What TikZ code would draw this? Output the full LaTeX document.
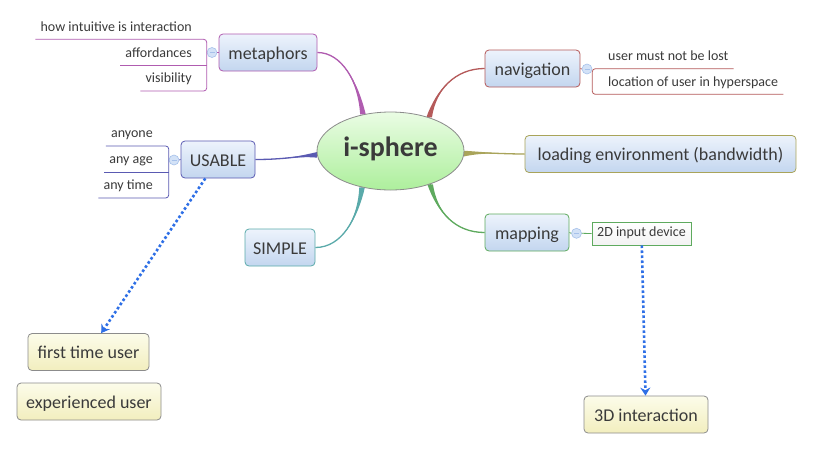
\documentclass[tikz,border=0pt]{standalone}
\usepackage{fontspec}
\setmainfont{Carlito}
\usetikzlibrary{shapes.geometric,calc,arrows.meta,backgrounds}
\definecolor{txt}{HTML}{3A3A3A}
\definecolor{purpline}{HTML}{B05CB0}
\definecolor{redline}{HTML}{B55A5A}
\definecolor{oliveline}{HTML}{A9A45A}
\definecolor{greenline}{HTML}{5EAA5E}
\definecolor{indigoline}{HTML}{5A5AB2}
\definecolor{tealline}{HTML}{5AAAAA}
\definecolor{boxgray}{HTML}{8C8C8C}
\definecolor{topictop}{HTML}{EDF3FC}
\definecolor{topicbot}{HTML}{C3D6EF}
\definecolor{notetop}{HTML}{FCFCEA}
\definecolor{notebot}{HTML}{F2EEBE}
\definecolor{hubtop}{HTML}{EAFCE4}
\definecolor{hubbot}{HTML}{ADEF9C}
\definecolor{foldfill}{HTML}{D3E2F7}
\definecolor{foldline}{HTML}{A6C1EA}
\definecolor{jumpblue}{HTML}{2E6FE6}
\tikzset{
	hub/.style={ellipse, draw=boxgray, line width=0.8pt, top color=hubtop, bottom color=hubbot,
		minimum width=147pt, minimum height=78pt, inner sep=0pt, text=txt,
		font=\bfseries\fontsize{28}{30}\selectfont, text height=18pt, text depth=7pt},
	topic/.style={draw, rounded corners=4pt, line width=0.8pt, top color=topictop, bottom color=topicbot,
		text=txt, font=\fontsize{18}{20}\selectfont, minimum height=37pt, inner xsep=0pt,
		text height=15pt, text depth=2pt},
	note/.style={topic, draw=boxgray, top color=notetop, bottom color=notebot},
	detail/.style={draw=greenline, line width=0.8pt, top color=white, bottom color=black!5,
		text=txt, font=\fontsize{14}{16}\selectfont, minimum width=99pt, minimum height=23pt,
		inner xsep=0pt, text height=10pt, text depth=3.5pt},
	leaf/.style={text=txt, font=\fontsize{14}{16}\selectfont, inner xsep=5pt, inner ysep=4pt,
		text height=10pt, text depth=4pt},
	fold/.style={circle, draw=foldline, fill=foldfill, line width=0.6pt, minimum size=10pt, inner sep=0pt,
		path picture={\draw[foldline, line width=0.7pt]
			($(path picture bounding box.center)+(-2.5,0)$) -- ($(path picture bounding box.center)+(2.5,0)$);}},
	jump/.style={draw=jumpblue, line width=2.6pt, dash pattern=on 2.6pt off 2.4pt,
		-{Stealth[length=8pt,width=10pt]}},
}
% tapered branch: colour, topic anchor, two controls, hub anchor, half width at hub
\newcommand{\branch}[6]{%
	\fill[#1] (#2) .. controls #3 and #4 .. ($(#5)+#6$) -- ($(#5)-#6$) .. controls #4 and #3 .. (#2) -- cycle;
	\draw[#1, line width=1.3pt] (#2) .. controls #3 and #4 .. (#5);}

\begin{document}
\begin{tikzpicture}[x=1pt,y=-1pt]
	\useasboundingbox (0,0) rectangle (813,450);

	\node[hub] (hub) at (390.5,151) {i-sphere};

	% main topics
	\node[topic, draw=purpline, minimum width=98pt] (metaphors) at (268,52.5) {metaphors};
	\node[topic, draw=redline, minimum width=95pt] (navigation) at (532.5,68.5) {navigation};
	\node[topic, draw=oliveline, minimum width=271pt] (loading) at (660.5,154) {loading environment (bandwidth)};
	\node[topic, draw=greenline, minimum width=84pt] (mapping) at (527,232.5) {mapping};
	\node[topic, draw=indigoline, minimum width=74pt] (usable) at (218,159.5) {USABLE};
	\node[topic, draw=tealline, minimum width=70pt] (simple) at (280,247.5) {SIMPLE};

	% floating notes
	\node[note, minimum width=121pt] (first) at (88.5,352) {first time user};
	\node[note, minimum width=144pt] (expert) at (89,401.5) {experienced user};
	\node[note, minimum width=124pt] (threed) at (646,414.5) {3D interaction};

	% fold markers
	\node[fold] (mfold) at (212,52.5) {};
	\node[fold] (ufold) at (174,160) {};
	\node[fold] (nfold) at (587,69) {};
	\node[fold] (pfold) at (576.5,233.3) {};

	% subtopics
	\node[leaf, anchor=south east] (m1) at (197,39.3) {how intuitive is interaction};
	\node[leaf, anchor=south east] (m2) at (197,65.3) {affordances};
	\node[leaf, anchor=south east] (m3) at (197,91) {visibility};
	\node[leaf, anchor=south east] (u1) at (158,146) {anyone};
	\node[leaf, anchor=south east] (u2) at (158,172) {any age};
	\node[leaf, anchor=south east] (u3) at (158,198) {any time};
	\node[leaf, anchor=south west] (n1) at (603,68.7) {user must not be lost};
	\node[leaf, anchor=south west] (n2) at (603,94.3) {location of user in hyperspace};
	\node[detail] (input) at (641.5,233.5) {2D input device};

	\begin{scope}[on background layer]
		\fill[white] (0,0) rectangle (813,450);
		\branch{purpline}{metaphors.east}{(342,52.5)}{(358,82)}{hub.127}{(2.8,0)}
		\branch{redline}{navigation.west}{(455,68.5)}{(436,90)}{hub.41}{(2.8,0)}
		\branch{oliveline}{loading.west}{(500,154)}{(485,152)}{hub.358}{(0,2.8)}
		\branch{greenline}{mapping.west}{(455,232.5)}{(437,212)}{hub.-40}{(2.8,0)}
		\branch{indigoline}{usable.east}{(285,159.5)}{(300,156)}{hub.183}{(0,2.8)}
		\branch{tealline}{simple.east}{(342,247.5)}{(358,218)}{hub.232}{(2.8,0)}
	\end{scope}

	% brackets
	\draw[purpline, line width=0.8pt] (metaphors.west) -- (mfold.east);
	\draw[purpline, line width=0.8pt, rounded corners=3pt] (m1.south west) -- (m1.south west -| mfold.west)
		-- (m3.south west -| mfold.west) -- (m3.south west);
	\draw[purpline, line width=0.8pt] (m2.south west) -- (m2.south west -| mfold.west);
	\draw[indigoline, line width=0.8pt] (usable.west) -- (ufold.east);
	\draw[indigoline, line width=0.8pt, rounded corners=3pt] (u1.south west) -- (u1.south west -| ufold.west)
		-- (u3.south west -| ufold.west) -- (u3.south west);
	\draw[indigoline, line width=0.8pt] (u2.south west) -- (u2.south west -| ufold.west);
	\draw[redline, line width=0.8pt] (navigation.east) -- (nfold.west);
	\draw[redline, line width=0.8pt, rounded corners=3pt] (n1.south east) -- (n1.south east -| nfold.east)
		-- (n2.south east -| nfold.east) -- (n2.south east);
	\draw[greenline, line width=0.8pt] (mapping.east) -- (pfold.west);
	\draw[greenline, line width=0.8pt] (pfold.east) -- (input.west);

	% relations
	\draw[jump] (usable) -- (first);
	\draw[jump] (input) -- (threed);
\end{tikzpicture}
\end{document}
